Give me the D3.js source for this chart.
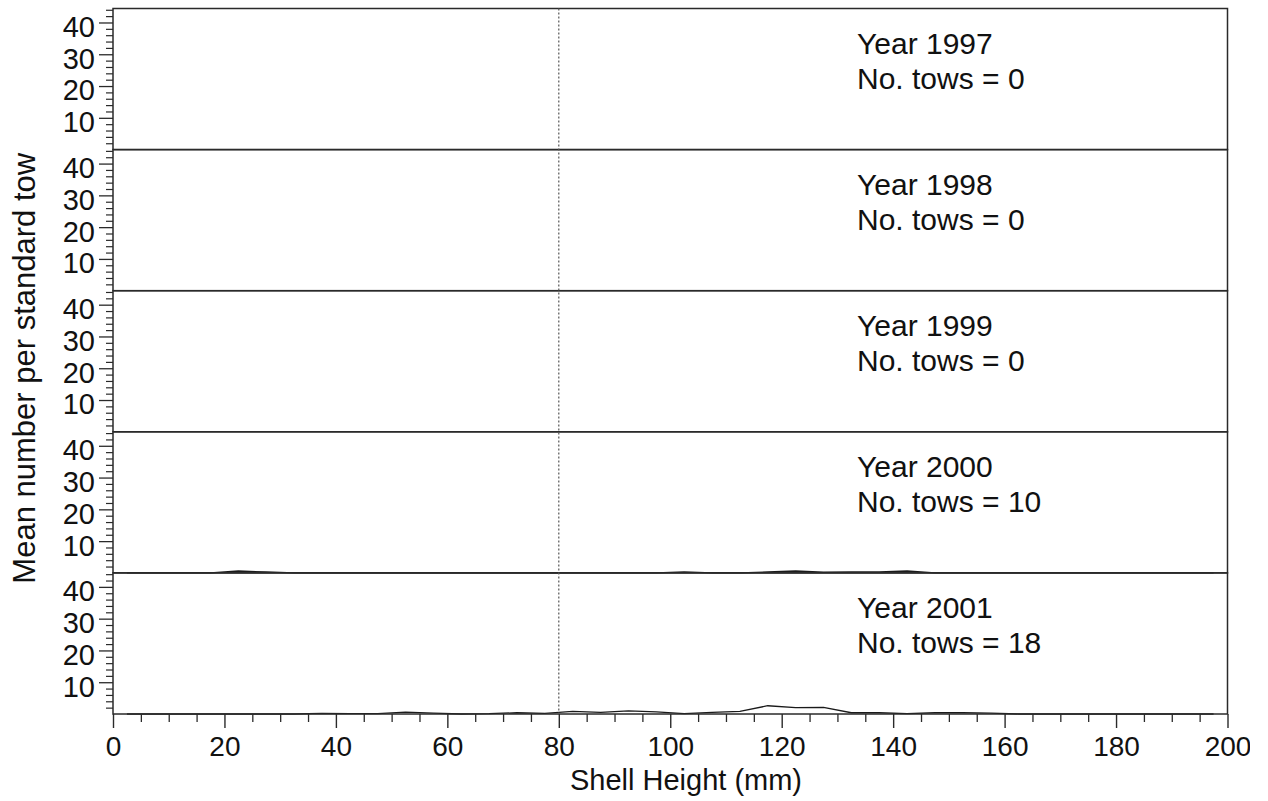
<!DOCTYPE html>
<html><head><meta charset="utf-8">
<script src="https://cdn.jsdelivr.net/npm/d3@7"></script>
<style>
body{margin:0;background:#fff;}
svg{display:block;font-family:"Liberation Sans",Arial,Helvetica,sans-serif;}
</style></head>
<body><svg id="chart" width="1268" height="801"></svg>
<script>
// ---- data ----
const years = ["1997","1998","1999","2000","2001"];
const tows = [0, 0, 0, 10, 18];
const shellHeights = [2.5,7.5,12.5,17.5,22.5,27.5,32.5,37.5,42.5,47.5,52.5,57.5,62.5,67.5,72.5,77.5,82.5,87.5,92.5,97.5,
  102.5,107.5,112.5,117.5,122.5,127.5,132.5,137.5,142.5,147.5,152.5,157.5,162.5,167.5,172.5,177.5,182.5,187.5,192.5,197.5];
const values1997 = [];
const values1998 = [];
const values1999 = [];
const values2000 = [0,0,0,0,0.6,0.3,0,0,0,0,0,0,0,0,0,0,0,0,0,0,
  0.3,0,0,0.3,0.6,0.2,0.3,0.3,0.6,0,0,0,0,0,0,0,0,0,0,0];
const values2001 = [0,0,0,0,0,0,0,0.2,0.1,0.1,0.6,0.3,0,0.1,0.4,0.2,0.8,0.5,1.0,0.7,
  0.1,0.5,0.8,2.6,2.0,2.1,0.4,0.4,0.1,0.4,0.4,0.3,0,0,0,0,0,0,0,0];
const seriesValues = [values1997, values1998, values1999, values2000, values2001];
const yTickValues = [10, 20, 30, 40];
const xTickValues = [0, 20, 40, 60, 80, 100, 120, 140, 160, 180, 200];
const cutoffHeight = 80;
const xTitle = "Shell Height (mm)";
const yTitle = "Mean number per standard tow";

// ---- layout ----
const svg = d3.select("#chart");
const mLeft = 113, mRight = 1227.5, mTop = 8.5, mBottom = 714;
const nP = years.length;
const panelH = (mBottom - mTop) / nP;
const ink = "#2a2a2a";
const fam = '"Liberation Sans",Arial,sans-serif';

svg.append("defs").append("clipPath").attr("id","pageclip")
  .append("rect").attr("x",0).attr("y",0).attr("width",1250).attr("height",801);
const root = svg.append("g").attr("clip-path","url(#pageclip)");

const x = d3.scaleLinear().domain([0, 200]).range([mLeft, mRight]);

years.forEach((yr, i) => {
  const pTop = mTop + i * panelH, pBot = pTop + panelH;
  const y = d3.scaleLinear().domain([0, 44.4]).range([pBot, pTop]);
  const g = root.append("g");

  // minor y ticks
  const minorY = d3.range(2, 45, 2).filter(v => v % 10 !== 0);
  g.append("g").attr("transform", `translate(${mLeft},0)`)
    .call(d3.axisLeft(y).tickValues(minorY).tickSize(7).tickFormat(""))
    .call(a => a.select(".domain").remove())
    .call(a => a.selectAll("line").attr("stroke", ink).attr("stroke-width", 1.2));
  // major y ticks
  g.append("g").attr("transform", `translate(${mLeft},0)`)
    .call(d3.axisLeft(y).tickValues(yTickValues).tickSize(14).tickPadding(4).tickFormat(d3.format("d")))
    .call(a => a.select(".domain").remove())
    .call(a => a.selectAll("line").attr("stroke", ink).attr("stroke-width", 1.3))
    .call(a => a.selectAll("text").attr("fill", "#111").attr("font-size", 29)
      .attr("font-family", fam).attr("dy", "0.48em"));

  // data line
  const vals = seriesValues[i];
  if (vals.length) {
    const pts = shellHeights.map((h, k) => [h, vals[k]]);
    g.append("path").datum(pts)
      .attr("fill", "none").attr("stroke", "#1a1a1a").attr("stroke-width", 1.3)
      .attr("d", d3.line().x(d => x(d[0])).y(d => y(d[1])));
  }

  // panel frame
  g.append("rect").attr("x", mLeft).attr("y", pTop).attr("width", mRight - mLeft).attr("height", panelH)
    .attr("fill", "none").attr("stroke", ink).attr("stroke-width", 1.5);

  // annotation
  const t = g.append("text").attr("x", 857).attr("font-size", 30).attr("fill", "#111");
  t.append("tspan").attr("x", 857).attr("y", pTop + 45).text("Year " + yr);
  t.append("tspan").attr("x", 857).attr("y", pTop + 80).text("No. tows = " + tows[i]);
});

// cutoff dotted line
root.append("line")
  .attr("x1", x(cutoffHeight)).attr("x2", x(cutoffHeight))
  .attr("y1", mTop).attr("y2", mBottom)
  .attr("stroke", "#555").attr("stroke-width", 1.2).attr("stroke-dasharray", "2,2");

// x axis
root.append("g").attr("transform", `translate(0,${mBottom})`)
  .call(d3.axisBottom(x).tickValues(d3.range(0, 201, 5).filter(v => v % 20 !== 0)).tickSize(8).tickFormat(""))
  .call(a => a.select(".domain").remove())
  .call(a => a.selectAll("line").attr("stroke", ink).attr("stroke-width", 1.3));
root.append("g").attr("transform", `translate(0,${mBottom})`)
  .call(d3.axisBottom(x).tickValues(xTickValues).tickSize(14).tickPadding(8).tickFormat(d3.format("d")))
  .call(a => a.select(".domain").remove())
  .call(a => a.selectAll("line").attr("stroke", ink).attr("stroke-width", 1.4))
  .call(a => a.selectAll("text").attr("fill", "#111").attr("font-size", 28).attr("font-family", fam));

// titles
root.append("text").attr("x", 686).attr("y", 790).attr("text-anchor", "middle")
  .attr("font-size", 29).attr("fill", "#111").text(xTitle);
root.append("text").attr("transform", `translate(35,${(mTop + mBottom) / 2 + 7}) rotate(-90)`)
  .attr("text-anchor", "middle").attr("font-size", 31).attr("fill", "#111").text(yTitle);
</script></body></html>
